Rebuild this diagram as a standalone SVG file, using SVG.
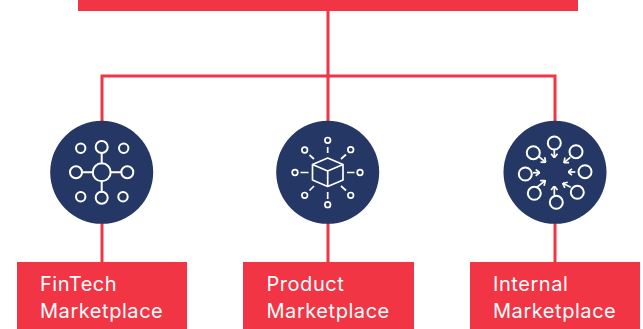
<svg xmlns="http://www.w3.org/2000/svg" width="643" height="329" viewBox="0 0 643 329">
<defs><style>
.box{fill:#f23545}
.disc{fill:#253764}
.conn{fill:none;stroke:#f23545;stroke-width:3}
.ic{fill:none;stroke:#fff;stroke-width:2;stroke-linecap:round;stroke-linejoin:round}
.ict{fill:none;stroke:#fff;stroke-width:1.7;stroke-linejoin:round}
.lb{fill:#fff;font-family:"Inter","Liberation Sans",sans-serif;font-size:20px;font-weight:400;letter-spacing:.55px}
</style>
<marker id="ah" viewBox="0 0 6 8" refX="5.500" refY="4" markerWidth="6" markerHeight="8" markerUnits="userSpaceOnUse" orient="auto"><path d="M1.500 0.800L5.500 4L1.500 7.200" fill="none" stroke="#fff" stroke-width="1.700"/></marker>
</defs>
<g id="connectors">
<path class="conn" d="M328 11V76M102 262V76H555V262M328 76V262"/>
</g>
<g id="root"><rect class="box" x="78" y="0" width="500" height="11"/></g>
<g id="fintech">
<circle class="disc" cx="101.700" cy="172.300" r="51.500"/>
<g class="ic">
<circle cx="101.700" cy="172.300" r="9"/>
<circle cx="101.700" cy="147" r="6"/><circle cx="101.700" cy="197.700" r="6"/><circle cx="76" cy="172.300" r="6"/><circle cx="127.300" cy="172.300" r="6"/>
<circle cx="80.700" cy="148.300" r="4.700"/><circle cx="123.700" cy="148.300" r="4.700"/><circle cx="80.700" cy="196.700" r="4.700"/><circle cx="123" cy="196.700" r="4.700"/>
<path d="M101.700 153V163.300M101.700 181.300V191.700M82 172.300H92.700M110.700 172.300H121.300"/>
</g>
<rect class="box" x="17" y="262" width="170" height="67"/>
<text class="lb" x="40" y="291">FinTech</text><text class="lb" x="40" y="318">Marketplace</text>
</g>
<g id="product">
<circle class="disc" cx="327.700" cy="172.300" r="51.500"/>
<g class="ict">
<circle cx="327.700" cy="140.300" r="2.800"/><circle cx="327.700" cy="204.700" r="2.800"/><circle cx="295" cy="172.500" r="2.800"/><circle cx="360" cy="172.500" r="2.800"/>
<circle cx="304.700" cy="150" r="2.800"/><circle cx="350.700" cy="149.700" r="2.800"/><circle cx="304.700" cy="195.300" r="2.800"/><circle cx="350.700" cy="195.300" r="2.800"/>
<path d="M327.700 147V153M327.700 192V199M300.500 172.500H308.500M347 172.500H354.500M309.500 155L314 159M346 154.500L341 159M314 186L309.500 190.500M341 186L346 190.500"/>
<path d="M327.700 158L343 164.500V180L327.700 186.500L312.500 180V164.500ZM312.500 164.500L327.700 171L343 164.500M327.700 171V186.500"/>
</g>
<rect class="box" x="243" y="262" width="171" height="67"/>
<text class="lb" x="266.500" y="291">Product</text><text class="lb" x="266.500" y="318">Marketplace</text>
</g>
<g id="internal">
<circle class="disc" cx="555" cy="172.300" r="51.500"/>
<g class="ic">
<circle cx="554.300" cy="143" r="6.500"/><circle cx="576" cy="151.700" r="6.500"/><circle cx="585" cy="171.700" r="6.500"/><circle cx="577.300" cy="192.300" r="6.500"/><circle cx="556.300" cy="202.300" r="6.500"/><circle cx="534.300" cy="193.300" r="6.500"/><circle cx="525.300" cy="174" r="6.500"/><circle cx="533.300" cy="152.700" r="6.500"/>
</g>
<g class="ict">
<path d="M554.300 149.500V157.700" marker-end="url(#ah)"/>
<path d="M570.300 157.300L564 162.700" marker-end="url(#ah)"/>
<path d="M575.300 172H568" marker-end="url(#ah)"/>
<path d="M570.700 187.300L562.700 183.300" marker-end="url(#ah)"/>
<path d="M554.300 195V186" marker-end="url(#ah)"/>
<path d="M536.300 187.700L545.300 180.700" marker-end="url(#ah)"/>
<path d="M533 172.700H539.700" marker-end="url(#ah)"/>
<path d="M539 156.700L545.700 162.300" marker-end="url(#ah)"/>
</g>
<rect class="box" x="470" y="262" width="170" height="67"/>
<text class="lb" x="493" y="291">Internal</text><text class="lb" x="493" y="318">Marketplace</text>
</g>
</svg>
